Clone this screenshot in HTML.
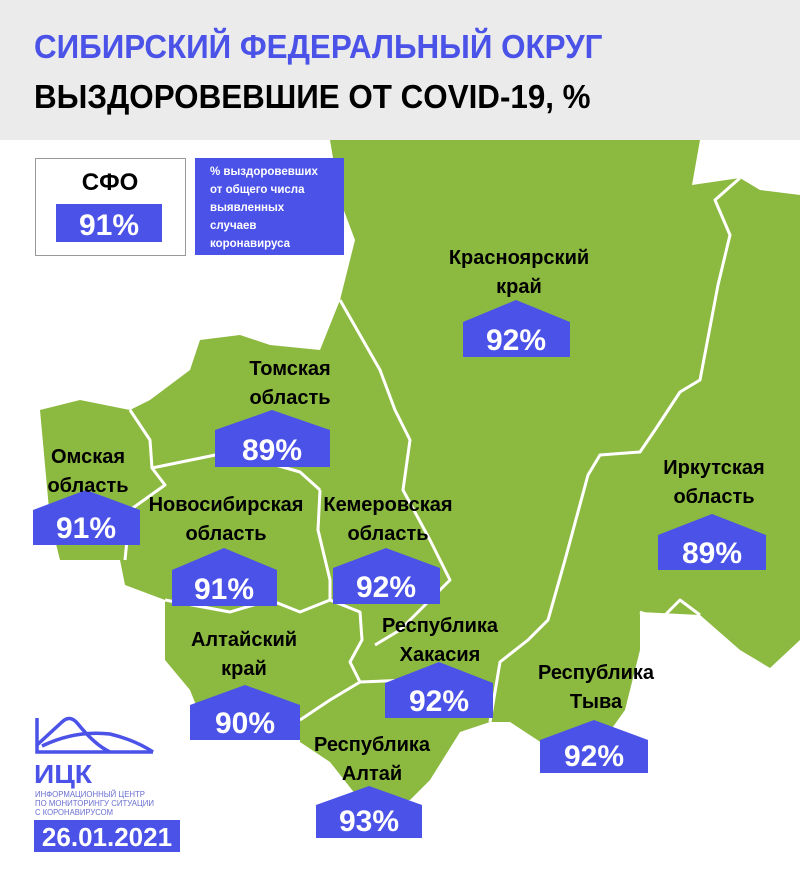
<!DOCTYPE html>
<html><head><meta charset="utf-8"><style>
body{margin:0;width:800px;height:885px;background:#fff;overflow:hidden;font-family:"Liberation Sans",sans-serif;position:relative}
.hdr{position:absolute;left:0;top:0;width:800px;height:140px;background:#ebebeb}
.t1{position:absolute;left:34px;top:28px;font-size:33px;font-weight:bold;color:#4b52e8;transform:scaleX(0.95);transform-origin:0 0}
.t2{position:absolute;left:34px;top:78px;font-size:33px;font-weight:bold;color:#000;transform:scaleX(0.95);transform-origin:0 0}
svg{position:absolute;left:0;top:0}
.lbl{position:absolute;font-weight:bold;font-size:20px;color:#000;text-align:center;line-height:29px;width:200px}
</style></head><body>
<div class="hdr"></div>
<div class="t1">СИБИРСКИЙ ФЕДЕРАЛЬНЫЙ ОКРУГ</div>
<div class="t2">ВЫЗДОРОВЕВШИЕ ОТ COVID-19, %</div>
<svg width="800" height="885" viewBox="0 0 800 885">
<polygon fill="#8cb940" points="330,140 700,140 692,185 740,178 760,190 800,195 800,640 770,668 740,650 700,615 640,612 640,650 625,710 600,745 545,745 510,722 490,722 460,732 430,780 410,800 360,800 330,762 300,742 300,720 200,715 190,690 165,660 165,600 125,585 120,560 60,560 50,520 40,410 80,400 130,410 150,400 190,370 200,340 240,335 270,345 320,350 340,300 355,240 340,200"/>
<g fill="none" stroke="#fff" stroke-width="3" stroke-linejoin="round">
<polyline points="340,300 380,370 395,410 410,440 403,490 430,540 450,580 420,610 400,630 375,645"/>
<polyline points="740,178 715,200 730,235 718,285 700,380 680,392 655,430 640,452 600,455 588,475 565,560 548,620 528,640 500,662 490,722"/>
<polyline points="700,615 680,600 660,620 640,612"/>
<polyline points="130,410 150,440 152,468 165,485 130,510 125,560"/>
<polyline points="152,468 230,452 300,472 320,490"/>
<polyline points="320,490 318,530 330,580 330,600"/>
<polyline points="165,600 230,612 270,600 300,612 330,600 360,612 362,640 350,662 360,682 330,700 300,720"/>
<polyline points="360,682 410,680 440,690 470,700 490,690"/>
</g>
<g fill="#4b52e8">
<polygon points="463,322 516,300 570,322 570,357 463,357"/>
<polygon points="215,430 272,410 330,430 330,467 215,467"/>
<polygon points="33,510 86,490 140,510 140,545 33,545"/>
<polygon points="172,570 224,548 277,570 277,606 172,606"/>
<polygon points="333,568 386,548 440,568 440,604 333,604"/>
<polygon points="190,705 245,685 300,705 300,740 190,740"/>
<polygon points="385,683 439,662 493,683 493,718 385,718"/>
<polygon points="540,740 594,720 648,740 648,773 540,773"/>
<polygon points="316,805 369,786 422,805 422,838 316,838"/>
<polygon points="658,535 712,514 766,535 766,570 658,570"/>
</g>
<g fill="#fff" font-family="Liberation Sans,sans-serif" font-weight="bold" font-size="30" text-anchor="middle">
<text x="516" y="350">92%</text>
<text x="272" y="460">89%</text>
<text x="86" y="538">91%</text>
<text x="224" y="599">91%</text>
<text x="386" y="597">92%</text>
<text x="245" y="733">90%</text>
<text x="439" y="711">92%</text>
<text x="594" y="766">92%</text>
<text x="369" y="831">93%</text>
<text x="712" y="563">89%</text>
</g>
<rect x="35.5" y="158.5" width="150" height="97" fill="#fff" stroke="#999"/>
<text x="110" y="190" font-family="Liberation Sans,sans-serif" font-weight="bold" font-size="24" text-anchor="middle">СФО</text>
<rect x="56" y="204" width="106" height="38" fill="#4b52e8"/>
<text x="109" y="235" fill="#fff" font-family="Liberation Sans,sans-serif" font-weight="bold" font-size="30" text-anchor="middle">91%</text>
<rect x="195" y="158" width="149" height="97" fill="#4b52e8"/>
<g fill="#fff" font-family="Liberation Sans,sans-serif" font-weight="bold" font-size="11.5">
<text x="210" y="175">% выздоровевших</text>
<text x="210" y="193">от общего числа</text>
<text x="210" y="211">выявленных</text>
<text x="210" y="229">случаев</text>
<text x="210" y="247">коронавируса</text>
</g>
<g fill="none" stroke="#4b52e8" stroke-width="3.5">
<polyline points="37,718 37,752 153,752"/>
<path d="M37,745 L62,722 Q70,714 78,724 Q95,745 110,752"/>
<path d="M42,746 Q75,730 110,734 Q135,740 153,752"/>
</g>
<text x="34" y="783" fill="#4b52e8" font-family="Liberation Sans,sans-serif" font-weight="bold" font-size="26" textLength="58" lengthAdjust="spacingAndGlyphs">ИЦК</text>
<g fill="#6a6fcf" font-family="Liberation Sans,sans-serif" font-size="8">
<text x="35" y="797" textLength="110" lengthAdjust="spacingAndGlyphs">ИНФОРМАЦИОННЫЙ ЦЕНТР</text>
<text x="35" y="806" textLength="119" lengthAdjust="spacingAndGlyphs">ПО МОНИТОРИНГУ СИТУАЦИИ</text>
<text x="35" y="815" textLength="78" lengthAdjust="spacingAndGlyphs">С КОРОНАВИРУСОМ</text>
</g>
<rect x="34" y="820" width="146" height="32" fill="#4b52e8"/>
<text x="107" y="846" fill="#fff" font-family="Liberation Sans,sans-serif" font-weight="bold" font-size="26" text-anchor="middle">26.01.2021</text>
</svg>
<div class="lbl" style="left:419px;top:244px">Красноярский<br>край</div>
<div class="lbl" style="left:190px;top:355px">Томская<br>область</div>
<div class="lbl" style="left:-12px;top:443px">Омская<br>область</div>
<div class="lbl" style="left:126px;top:491px">Новосибирская<br>область</div>
<div class="lbl" style="left:288px;top:491px">Кемеровская<br>область</div>
<div class="lbl" style="left:144px;top:626px">Алтайский<br>край</div>
<div class="lbl" style="left:340px;top:612px">Республика<br>Хакасия</div>
<div class="lbl" style="left:496px;top:659px">Республика<br>Тыва</div>
<div class="lbl" style="left:272px;top:731px">Республика<br>Алтай</div>
<div class="lbl" style="left:614px;top:454px">Иркутская<br>область</div>
</body></html>
